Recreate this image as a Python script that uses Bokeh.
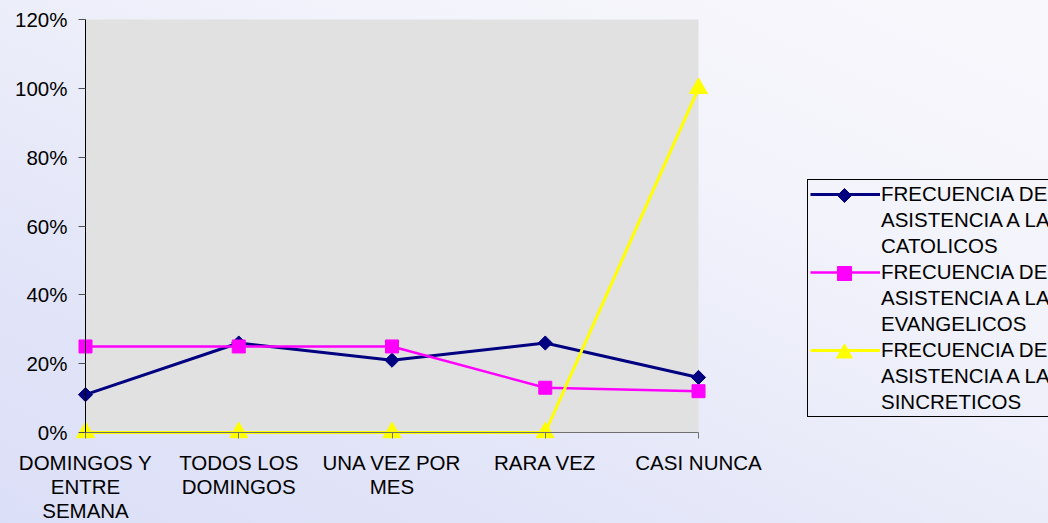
from math import pi
from bokeh.plotting import figure
from bokeh.models import (Range1d, FixedTicker, NumeralTickFormatter, Legend, LegendItem,
                          PolyAnnotation, BoxAnnotation)
from bokeh.embed import file_html
from bokeh.resources import INLINE

# ---- data ----
categories = ["DOMINGOS Y\nENTRE\nSEMANA", "TODOS LOS\nDOMINGOS", "UNA VEZ POR\nMES", "RARA VEZ", "CASI NUNCA"]
catolicos = [0.11, 0.26, 0.21, 0.26, 0.16]
evangelicos = [0.25, 0.25, 0.25, 0.13, 0.12]
sincreticos = [0.0, 0.0, 0.0, 0.0, 1.0]
series_names = [
    "FRECUENCIA DE\nASISTENCIA A LA\nCATOLICOS",
    "FRECUENCIA DE\nASISTENCIA A LA\nEVANGELICOS",
    "FRECUENCIA DE\nASISTENCIA A LA\nSINCRETICOS",
]
y_ticks = [0, 0.2, 0.4, 0.6, 0.8, 1.0, 1.2]
Y_MAX = 1.2

# ---- layout (pixels) ----
W, H = 1048, 523
AX_LEFT, AX_RIGHT = 85, 698      # x of first / last category
AX_TOP, AX_BOTTOM = 19, 432      # y of Y_MAX / 0
HIDDEN = 100                     # axis side panels are pushed off-page; the frame covers the page
n = len(categories)
px_x = (AX_RIGHT - AX_LEFT) / (n - 1)
px_y = (AX_BOTTOM - AX_TOP) / Y_MAX

FONT = "Liberation Sans"
FS = "20.5px"
styles = [
    dict(color="#000080", lw=3, marker="square", size=10, angle=pi / 4, shape="diamond"),
    dict(color="#ff00ff", lw=2.5, marker="square", size=13, angle=0.0, shape="square"),
    dict(color="#ffff00", lw=3, marker="triangle", size=18, angle=0.0, shape="triangle"),
]
series = [catolicos, evangelicos, sincreticos]
xs = list(range(n))

p = figure(frame_width=W, frame_height=H,
           min_border_left=HIDDEN, min_border_top=0, min_border_right=0, min_border_bottom=0,
           x_range=Range1d(-AX_LEFT / px_x, (W - AX_LEFT) / px_x),
           y_range=Range1d(-(H - AX_BOTTOM) / px_y, Y_MAX + AX_TOP / px_y),
           output_backend="svg", toolbar_location=None)
p.title.visible = False
p.background_fill_alpha = 0
p.border_fill_alpha = 0
p.outline_line_color = None
p.grid.visible = False
p.styles = {
    "margin-left": f"-{HIDDEN}px",
    "height": f"{H}px",
    "overflow": "hidden",
    "background": "linear-gradient(to top right, #dadef7 0%, #e2e5f8 30%, #eaecf9 50%, #f3f4fb 72%, #f8f8fc 100%)",
}

# plot area
p.add_layout(BoxAnnotation(left=0, right=n - 1, bottom=0, top=Y_MAX, level="underlay",
                           fill_color="#e1e1e1", fill_alpha=1, line_color=None))

line_renderers = []
for vals, st in zip(series, styles):
    lr = p.line(xs, vals, line_color=st["color"], line_width=st["lw"])
    p.scatter(xs, vals, marker=st["marker"], size=st["size"], angle=st["angle"],
              fill_color=st["color"], line_color=st["color"])
    line_renderers.append(lr)

xa = p.xaxis[0]
xa.fixed_location = 0
xa.bounds = (0, n - 1)
xa.ticker = FixedTicker(ticks=xs)
xa.major_label_overrides = {i: c for i, c in zip(xs, categories)}
xa.minor_tick_line_color = None
xa.major_tick_in = 0
xa.major_tick_out = 6
xa.major_label_standoff = 12
xa.axis_line_color = "#707070"
xa.major_tick_line_color = "#707070"
xa.major_label_text_font = FONT
xa.major_label_text_font_size = FS
xa.major_label_text_color = "black"
xa.major_label_text_line_height = 1.06

ya = p.yaxis[0]
ya.fixed_location = 0
ya.bounds = (0, Y_MAX)
ya.ticker = FixedTicker(ticks=y_ticks)
ya.formatter = NumeralTickFormatter(format="0%")
ya.minor_tick_line_color = None
ya.major_tick_in = 0
ya.major_tick_out = 7
ya.major_label_standoff = 11
ya.axis_line_color = "black"
ya.major_tick_line_color = "#505050"
ya.major_label_text_font = FONT
ya.major_label_text_font_size = FS
ya.major_label_text_color = "black"

# ---- legend: one row per text line, line glyph only on the first line of each series ----
dummy = p.line([], [], line_alpha=0)
items = []
for name, lr in zip(series_names, line_renderers):
    for k, txt in enumerate(name.split("\n")):
        items.append(LegendItem(label=txt, renderers=[lr] if k == 0 else [dummy]))

LEG_LEFT, LEG_TOP = 807, 181
ROW_H, ROW_GAP, LPAD = 24, 2, 2
n_rows = len(items)
leg_h = 2 * LPAD + n_rows * ROW_H + (n_rows - 1) * ROW_GAP
legend = Legend(items=items, location=(LEG_LEFT, H - (LEG_TOP + leg_h)),
                orientation="vertical", padding=LPAD, spacing=ROW_GAP, margin=0,
                glyph_width=70, glyph_height=ROW_H, label_height=ROW_H, label_standoff=1,
                label_text_font=FONT, label_text_font_size=FS, label_text_color="black",
                border_line_color="black", border_line_width=1, border_line_alpha=1,
                background_fill_alpha=0)
p.add_layout(legend)

# legend markers, placed from pixel positions converted to the plot's coordinates
mk_px = LEG_LEFT + LPAD + 35
for i, st in enumerate(styles):
    cy_px = LEG_TOP + LPAD + i * 3 * (ROW_H + ROW_GAP) + ROW_H / 2
    if st["shape"] == "diamond":
        dx, dy = [0, 7, 0, -7], [-7, 0, 7, 0]
    elif st["shape"] == "square":
        dx, dy = [-7, 7, 7, -7], [-7, -7, 7, 7]
    else:
        dx, dy = [-8, 8, 0], [6.5, 6.5, -7.5]
    p.add_layout(PolyAnnotation(
        xs=[(mk_px + a - AX_LEFT) / px_x for a in dx],
        ys=[(AX_BOTTOM - (cy_px + b)) / px_y for b in dy],
        fill_color=st["color"], fill_alpha=1, line_color=st["color"], line_alpha=1, line_width=1))

open("out.html", "w").write(file_html(p, INLINE))
